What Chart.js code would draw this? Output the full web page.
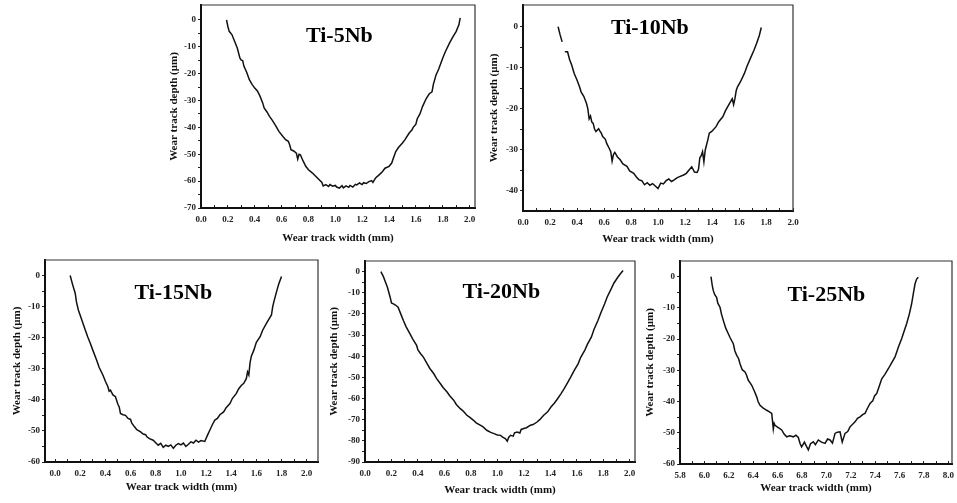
<!DOCTYPE html>
<html>
<head>
<meta charset="utf-8">
<script src="https://cdn.jsdelivr.net/npm/chart.js"></script>
<style>
  html, body { margin: 0; padding: 0; background: #fff; }
  #page { position: relative; width: 957px; height: 503px; overflow: hidden; background: #fff; }
  .panel { position: absolute; left: 0; top: 0; width: 957px; height: 503px; }
</style>
</head>
<body>
<div id="page">
  <div class="panel"><canvas id="chart5"></canvas></div>
  <div class="panel"><canvas id="chart10"></canvas></div>
  <div class="panel"><canvas id="chart15"></canvas></div>
  <div class="panel"><canvas id="chart20"></canvas></div>
  <div class="panel"><canvas id="chart25"></canvas></div>
</div>
<script>
// Wear track profiles: [width (mm), depth (um)]
const ti5Profile = [[0.19,0],[0.20,-2.5],[0.21,-4.3],[0.23,-5.5],[0.25,-8],[0.27,-10.5],[0.29,-14.3],[0.30,-15],
  [0.31,-15.2],[0.32,-17.3],[0.34,-19.5],[0.36,-22.3],[0.38,-24],[0.40,-25.4],[0.42,-26.5],[0.44,-28.5],[0.46,-31],
  [0.47,-32.8],[0.49,-34.2],[0.51,-35.9],[0.53,-37.3],[0.56,-39.7],[0.58,-41.5],[0.61,-43.4],[0.63,-44.6],[0.65,-45.2],
  [0.66,-46.5],[0.67,-48.3],[0.69,-48.8],[0.71,-49.6],[0.72,-51.8],[0.73,-50],[0.74,-50.2],[0.76,-52.5],[0.78,-54.5],
  [0.80,-55.8],[0.83,-57],[0.85,-58],[0.88,-59.5],[0.90,-60.5],[0.91,-61.8],[0.93,-61.3],[0.95,-62],[0.96,-61.3],
  [0.98,-61.9],[1.00,-61.6],[1.01,-62.2],[1.03,-62.6],[1.05,-61.7],[1.06,-62.5],[1.08,-61.8],[1.10,-62.3],[1.11,-61.6],
  [1.13,-62.2],[1.15,-61.2],[1.16,-61.4],[1.18,-60.7],[1.20,-61.3],[1.21,-60.6],[1.23,-60.9],[1.25,-60.2],[1.27,-59.8],
  [1.28,-60.5],[1.30,-58.8],[1.33,-57.5],[1.35,-56.5],[1.37,-55.2],[1.40,-54.5],[1.42,-53.3],[1.43,-51.8],[1.45,-49],
  [1.47,-47.5],[1.50,-45.8],[1.52,-44.5],[1.55,-42.1],[1.57,-41],[1.58,-40],[1.60,-38.8],[1.61,-36.8],[1.63,-35],
  [1.65,-32.2],[1.67,-30],[1.68,-29],[1.70,-27.5],[1.72,-26.8],[1.73,-24],[1.75,-20.5],[1.77,-18.3],[1.80,-14.2],
  [1.82,-11.8],[1.85,-8.7],[1.87,-6.8],[1.90,-4.3],[1.92,-1.9],[1.93,0.7]];

const ti10Profile = [[0.26,0],[0.275,-2],[0.29,-3.7],[0.295,null],[0.31,-6.1],[0.33,-6.1],[0.345,-8],[0.36,-9.3],
  [0.38,-11.5],[0.40,-13],[0.42,-14.8],[0.43,-15.9],[0.45,-17],[0.47,-18.7],[0.48,-20],[0.49,-22.5],[0.50,-21.8],
  [0.51,-23.3],[0.52,-23.6],[0.53,-25],[0.54,-25.6],[0.56,-24.9],[0.57,-25.5],[0.58,-26],[0.59,-26.8],[0.61,-27.5],
  [0.62,-28.5],[0.64,-29.8],[0.65,-30.5],[0.66,-32.8],[0.67,-31.2],[0.68,-30.7],[0.70,-31.8],[0.72,-32.5],[0.74,-33.5],
  [0.77,-34.1],[0.79,-35.2],[0.82,-35.8],[0.84,-36.7],[0.86,-37.4],[0.88,-37.6],[0.90,-38.6],[0.92,-38.1],[0.94,-38.7],
  [0.96,-38.3],[0.98,-38.9],[1.00,-39.5],[1.02,-38.2],[1.04,-38.4],[1.06,-37.6],[1.08,-37.2],[1.10,-37.8],[1.12,-37.4],
  [1.14,-36.9],[1.16,-36.6],[1.19,-36.2],[1.21,-35.8],[1.23,-35],[1.25,-34.2],[1.27,-35.5],[1.29,-35.6],[1.30,-34.8],
  [1.31,-32],[1.32,-31.5],[1.33,-30.5],[1.34,-33],[1.35,-30.1],[1.37,-27.5],[1.38,-26],[1.40,-25.5],[1.43,-24.4],
  [1.45,-23.2],[1.48,-22],[1.50,-20.5],[1.53,-18.7],[1.55,-17.6],[1.56,-19],[1.57,-17.5],[1.58,-15.5],[1.59,-14.6],
  [1.61,-13.5],[1.64,-11.4],[1.66,-9.6],[1.69,-7.3],[1.71,-5.8],[1.73,-4.1],[1.75,-2.2],[1.765,-0.2]];

const ti15Profile = [[0.12,0],[0.14,-3],[0.16,-5.7],[0.17,-8.5],[0.185,-11.1],[0.21,-14],[0.24,-17.5],[0.26,-19.8],
  [0.28,-21.8],[0.30,-24],[0.33,-27.2],[0.35,-29.5],[0.38,-32],[0.40,-34],[0.42,-35.8],[0.43,-37.2],[0.44,-36.9],
  [0.46,-38.4],[0.48,-39],[0.50,-41.5],[0.51,-42.3],[0.52,-44.4],[0.54,-44.8],[0.56,-45],[0.58,-46],[0.60,-46.3],
  [0.61,-47.5],[0.63,-48.6],[0.65,-49.6],[0.68,-50.3],[0.70,-51],[0.72,-51.2],[0.73,-51.9],[0.75,-52.5],[0.78,-53],
  [0.80,-53.8],[0.82,-54.6],[0.84,-54],[0.86,-55.3],[0.88,-54.6],[0.90,-55],[0.92,-54.5],[0.94,-55.6],[0.96,-54.6],
  [0.98,-54.1],[1.00,-54.5],[1.02,-53.9],[1.04,-55],[1.06,-54.3],[1.08,-53.5],[1.10,-53.9],[1.12,-53],[1.14,-53.6],
  [1.16,-53.1],[1.19,-53.4],[1.21,-51.5],[1.23,-49.8],[1.25,-48],[1.27,-46.5],[1.29,-46],[1.31,-44.8],[1.34,-43.9],
  [1.36,-42.5],[1.39,-41.2],[1.41,-39.5],[1.44,-38],[1.46,-36.4],[1.48,-35.4],[1.50,-34.7],[1.52,-33.2],[1.53,-31],
  [1.54,-32],[1.55,-28],[1.56,-26],[1.58,-24],[1.60,-21.5],[1.63,-19.7],[1.65,-17.6],[1.68,-15.4],[1.70,-14],
  [1.72,-12.7],[1.73,-10],[1.74,-8.3],[1.75,-6.8],[1.77,-3.8],[1.78,-2.5],[1.80,-0.3]];

const ti20Profile = [[0.12,0],[0.14,-2.5],[0.15,-4.2],[0.17,-7.5],[0.19,-12.1],[0.20,-14.8],[0.215,-15.3],[0.23,-15.8],
  [0.25,-16.8],[0.27,-20],[0.29,-23.1],[0.31,-26],[0.34,-29.4],[0.36,-31.8],[0.39,-34.9],[0.40,-37],[0.42,-38.8],
  [0.44,-40.3],[0.47,-43.6],[0.49,-45.8],[0.52,-48.3],[0.54,-50.5],[0.57,-53],[0.59,-54.8],[0.62,-56.9],[0.64,-58.7],
  [0.67,-60.8],[0.69,-62.8],[0.72,-64.8],[0.74,-65.8],[0.77,-67.9],[0.79,-68.8],[0.82,-70.3],[0.84,-71.5],[0.87,-72.6],
  [0.89,-73.3],[0.92,-75],[0.95,-76],[0.975,-76.6],[1.00,-77.2],[1.025,-77.4],[1.04,-78.3],[1.06,-78.9],[1.075,-80.2],
  [1.085,-78.4],[1.10,-77.4],[1.12,-77.8],[1.13,-76.2],[1.15,-75.8],[1.17,-76.3],[1.18,-74.6],[1.20,-74.2],[1.22,-73.8],
  [1.25,-72.6],[1.27,-72.3],[1.30,-71.1],[1.32,-70],[1.35,-67.9],[1.38,-66.3],[1.405,-64],[1.43,-62.2],[1.455,-60.1],
  [1.48,-57.8],[1.505,-55.3],[1.53,-52.6],[1.555,-49.8],[1.58,-46.8],[1.61,-43.6],[1.63,-40.5],[1.66,-37.3],[1.68,-34.4],
  [1.71,-31],[1.73,-27.4],[1.76,-23.1],[1.78,-19.8],[1.81,-15.3],[1.83,-12],[1.86,-8.2],[1.88,-5.5],[1.91,-2.7],
  [1.93,-1],[1.95,0.5]];

const ti25Profile = [[6.054,0],[6.065,-3],[6.073,-4.5],[6.085,-5.8],[6.10,-6.6],[6.11,-8.5],[6.128,-9.8],[6.14,-12],
  [6.155,-14],[6.175,-16.5],[6.196,-18.3],[6.21,-19.5],[6.237,-21.5],[6.25,-23.8],[6.265,-25.2],[6.28,-26.2],
  [6.292,-27.9],[6.31,-29.8],[6.333,-30.5],[6.345,-31.5],[6.36,-33.2],[6.375,-34],[6.388,-34.8],[6.41,-36.7],
  [6.429,-38.5],[6.44,-40],[6.456,-41.2],[6.48,-42],[6.511,-42.8],[6.53,-43.2],[6.552,-43.8],[6.565,-48.8],[6.572,-47],
  [6.579,-47.6],[6.60,-48.2],[6.634,-49.1],[6.655,-50.5],[6.675,-51.3],[6.70,-51],[6.729,-51.3],[6.75,-50.8],[6.77,-51.5],
  [6.785,-53.5],[6.797,-54.5],[6.82,-53],[6.835,-54.2],[6.852,-55.5],[6.87,-53.5],[6.893,-52.9],[6.91,-53.8],[6.934,-52.3],
  [6.96,-53],[6.989,-53.4],[7.01,-52],[7.03,-52.3],[7.05,-53.3],[7.071,-50.2],[7.09,-49.8],[7.112,-49.7],[7.13,-53],
  [7.153,-50.2],[7.175,-49.6],[7.194,-48.1],[7.215,-47.3],[7.235,-46.5],[7.255,-45.4],[7.276,-44.9],[7.30,-44.1],
  [7.317,-43.8],[7.335,-42.3],[7.358,-40.6],[7.38,-39.8],[7.395,-38.2],[7.413,-37.4],[7.43,-35.5],[7.454,-32.7],
  [7.48,-31.3],[7.508,-29.5],[7.535,-27.6],[7.563,-25.7],[7.59,-22.6],[7.617,-19.9],[7.64,-17.2],[7.658,-15.1],
  [7.68,-12],[7.699,-8.7],[7.715,-5],[7.727,-2.3],[7.74,-0.8],[7.754,-0.2]];

// tick values
const xTicks02 = [0.0,0.2,0.4,0.6,0.8,1.0,1.2,1.4,1.6,1.8,2.0];
const xTicks25 = [5.8,6.0,6.2,6.4,6.6,6.8,7.0,7.2,7.4,7.6,7.8,8.0];
const yTicks5 = [0,-10,-20,-30,-40,-50,-60,-70];
const yTicks10 = [0,-10,-20,-30,-40];
const yTicks15 = [0,-10,-20,-30,-40,-50,-60];
const yTicks20 = [0,-10,-20,-30,-40,-50,-60,-70,-80,-90];
const yTicks25 = [0,-10,-20,-30,-40,-50,-60];

const panelNames = ['Ti-5Nb','Ti-10Nb','Ti-15Nb','Ti-20Nb','Ti-25Nb'];

const SERIF = "'Liberation Serif', 'Times New Roman', serif";
const PAGE_W = 957, PAGE_H = 503;

// box = plot frame on the page; yTitleX / xTitleY = where the axis titles sit
const panels = [
  { id: 'chart5',  name: panelNames[0], data: ti5Profile,  box: [201, 5, 475, 208],   yTitleX: 175, xTitleY: 238,
    xMin: 0, xMax: 2.04, yMin: -70, yMax: 5.5, xTicks: xTicks02, yTicks: yTicks5,  label: [1.03, -6.3] },
  { id: 'chart10', name: panelNames[1], data: ti10Profile, box: [523, 5, 793, 211],   yTitleX: 495, xTitleY: 239,
    xMin: 0, xMax: 2.0, yMin: -45, yMax: 5.3, xTicks: xTicks02, yTicks: yTicks10, label: [0.94, -0.3] },
  { id: 'chart15', name: panelNames[2], data: ti15Profile, box: [45, 260, 318, 462],  yTitleX: 18, xTitleY: 487,
    xMin: -0.08, xMax: 2.09, yMin: -60, yMax: 5, xTicks: xTicks02, yTicks: yTicks15, label: [0.94, -5.6] },
  { id: 'chart20', name: panelNames[3], data: ti20Profile, box: [365, 261, 635, 462], yTitleX: 335, xTitleY: 490,
    xMin: 0, xMax: 2.04, yMin: -90, yMax: 5, xTicks: xTicks02, yTicks: yTicks20, label: [1.03, -9.9] },
  { id: 'chart25', name: panelNames[4], data: ti25Profile, box: [680, 261, 952, 464], yTitleX: 651, xTitleY: 488,
    xMin: 5.8, xMax: 8.03, yMin: -60, yMax: 5, xTicks: xTicks25, yTicks: yTicks25, label: [7.0, -6] }
];

// add a minor tick halfway between every pair of majors
function withMinor(major) {
  const out = [];
  for (let i = 0; i < major.length; i++) {
    out.push({ value: major[i], major: true });
    if (i < major.length - 1) out.push({ value: (major[i] + major[i + 1]) / 2, major: false });
  }
  return out;
}

// frame on top / right and the sample name inside the plot
const framePlugin = {
  id: 'frameAndName',
  afterDatasetsDraw(chart, args, opts) {
    const { ctx, chartArea: a, scales } = chart;
    ctx.save();
    ctx.strokeStyle = '#333';
    ctx.lineWidth = 1.2;
    ctx.beginPath();
    ctx.moveTo(a.left, a.top);
    ctx.lineTo(a.right, a.top);
    ctx.lineTo(a.right, a.bottom);
    ctx.stroke();
    ctx.fillStyle = '#000';
    ctx.font = 'bold 22px ' + SERIF;
    ctx.textAlign = 'center';
    ctx.textBaseline = 'middle';
    ctx.fillText(opts.name, scales.x.getPixelForValue(opts.at[0]), scales.y.getPixelForValue(opts.at[1]));
    ctx.restore();
  }
};

function makePanel(p) {
  const [L, T, R, B] = p.box;
  const yW = Math.round(L - (p.yTitleX - 6.5));
  const xH = Math.round(p.xTitleY + 6.5 - B);
  const tickFont = { family: SERIF, size: 9, weight: 'bold' };
  const titleFont = { family: SERIF, size: 11, weight: 'bold' };

  new Chart(document.getElementById(p.id), {
    type: 'line',
    data: {
      datasets: [{
        data: p.data.map(d => ({ x: d[0], y: d[1] })),
        borderColor: '#111',
        borderWidth: 1.5,
        pointRadius: 0,
        tension: 0,
        fill: false
      }]
    },
    options: {
      responsive: true,
      maintainAspectRatio: false,
      animation: false,
      events: [],
      layout: { padding: { left: L - yW, top: T, right: PAGE_W - R, bottom: PAGE_H - B - xH } },
      plugins: {
        legend: { display: false },
        tooltip: { enabled: false },
        frameAndName: { name: p.name, at: p.label }
      },
      scales: {
        x: {
          type: 'linear',
          min: p.xMin,
          max: p.xMax,
          afterBuildTicks: s => { s.ticks = withMinor(p.xTicks); },
          // fixed height, and no extra room for the end labels so the frame stays put
          afterFit: s => { s.height = xH; s.paddingLeft = 0; s.paddingRight = 0; },
          // negative length puts the tick marks inside the frame
          grid: { drawOnChartArea: false, tickLength: -3, color: '#222', lineWidth: 1 },
          border: { display: true, color: '#111', width: 2 },
          ticks: {
            autoSkip: false, maxRotation: 0, padding: 9, color: '#222', font: tickFont,
            callback: function (v, i, ticks) { return ticks[i].major ? Number(v).toFixed(1) : ''; }
          },
          title: { display: true, text: 'Wear track width (mm)', color: '#111', font: titleFont, padding: 0 }
        },
        y: {
          type: 'linear',
          min: p.yMin,
          max: p.yMax,
          afterBuildTicks: s => { s.ticks = withMinor(p.yTicks); },
          afterFit: s => { s.width = yW; s.paddingTop = 0; s.paddingBottom = 0; },
          grid: { drawOnChartArea: false, tickLength: 3, color: '#222', lineWidth: 1 },
          border: { display: true, color: '#111', width: 2 },
          ticks: {
            autoSkip: false, padding: 2, color: '#222', font: tickFont,
            callback: function (v, i, ticks) { return ticks[i].major ? String(Math.round(v)) : ''; }
          },
          title: { display: true, text: 'Wear track depth (\u03bcm)', color: '#111', font: titleFont, padding: 0 }
        }
      }
    },
    plugins: [framePlugin]
  });
}

panels.forEach(makePanel);
</script>
</body>
</html>
